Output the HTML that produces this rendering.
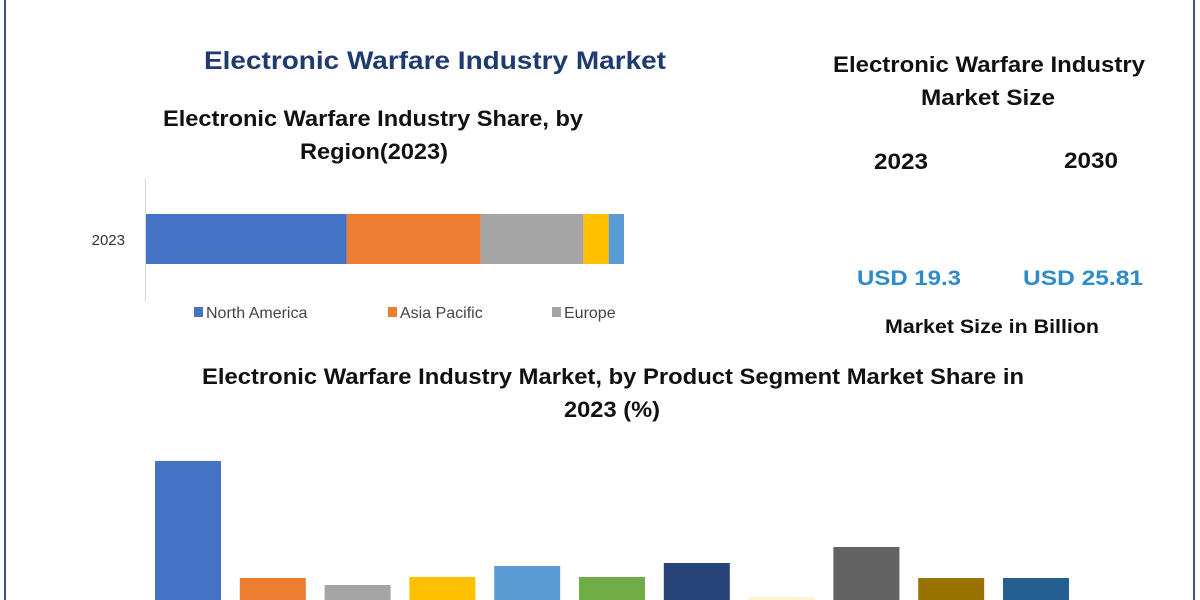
<!DOCTYPE html>
<html><head><meta charset="utf-8"><style>
html,body{margin:0;padding:0;background:#fff;}
svg{display:block;font-family:"Liberation Sans",sans-serif;}
</style></head><body>
<svg id="chart" width="1200" height="600" viewBox="0 0 1200 600">
<rect x="0" y="0" width="1200" height="600" fill="#fff"/>
<line x1="5" y1="0" x2="5" y2="600" stroke="#3d4f86" stroke-width="2"/>
<line x1="1194" y1="0" x2="1194" y2="600" stroke="#3d4f86" stroke-width="2"/>
<text x="435" y="69" text-anchor="middle" font-size="25" font-weight="bold" fill="#1f3a6e" textLength="462" lengthAdjust="spacingAndGlyphs">Electronic Warfare Industry Market</text>
<text x="373" y="126" text-anchor="middle" font-size="22" font-weight="bold" fill="#111" textLength="420" lengthAdjust="spacingAndGlyphs">Electronic Warfare Industry Share, by</text>
<text x="374" y="159" text-anchor="middle" font-size="22" font-weight="bold" fill="#111" textLength="148" lengthAdjust="spacingAndGlyphs">Region(2023)</text>
<line x1="145.5" y1="178" x2="145.5" y2="302" stroke="#d9d9d9" stroke-width="1"/>
<text x="125" y="245" text-anchor="end" font-size="15" fill="#333">2023</text>
<g id="stack"></g>
<g id="legend"></g>
<text x="989" y="72" text-anchor="middle" font-size="22" font-weight="bold" fill="#111" textLength="312" lengthAdjust="spacingAndGlyphs">Electronic Warfare Industry</text>
<text x="988" y="105" text-anchor="middle" font-size="22" font-weight="bold" fill="#111" textLength="134" lengthAdjust="spacingAndGlyphs">Market Size</text>
<text x="901" y="169" text-anchor="middle" font-size="22" font-weight="bold" fill="#111" textLength="54" lengthAdjust="spacingAndGlyphs">2023</text>
<text x="1091" y="168" text-anchor="middle" font-size="22" font-weight="bold" fill="#111" textLength="54" lengthAdjust="spacingAndGlyphs">2030</text>
<text x="909" y="285" text-anchor="middle" font-size="21" font-weight="bold" fill="#2e8bc9" textLength="104" lengthAdjust="spacingAndGlyphs">USD 19.3</text>
<text x="1083" y="285" text-anchor="middle" font-size="21" font-weight="bold" fill="#2e8bc9" textLength="120" lengthAdjust="spacingAndGlyphs">USD 25.81</text>
<text x="992" y="333" text-anchor="middle" font-size="19" font-weight="bold" fill="#111" textLength="214" lengthAdjust="spacingAndGlyphs">Market Size in Billion</text>
<text x="613" y="384" text-anchor="middle" font-size="22" font-weight="bold" fill="#111" textLength="822" lengthAdjust="spacingAndGlyphs">Electronic Warfare Industry Market, by Product Segment Market Share in</text>
<text x="612" y="417" text-anchor="middle" font-size="22" font-weight="bold" fill="#111" textLength="96" lengthAdjust="spacingAndGlyphs">2023 (%)</text>
<g id="bars"></g>
</svg>
<script>
const regions = ["North America","Asia Pacific","Europe","Middle East & Africa","South America"];
const regionShares = [42, 28, 21.5, 5.3, 3.2];
const regionColors = ["#4472c4","#ed7d31","#a5a5a5","#ffc000","#5b9bd5"];
const legendShown = ["North America","Asia Pacific","Europe"];
const segments = ["S1","S2","S3","S4","S5","S6","S7","S8","S9","S10","S11"];
const segmentValues = [139, 22, 15, 23, 34, 23, 37, 3, 53, 22, 22];
const segmentColors = ["#4472c4","#ed7d31","#a5a5a5","#ffc000","#5b9bd5","#70ad47","#264478","#fff2cc","#636363","#997300","#255e91"];
const NS = "http://www.w3.org/2000/svg";
function mk(t, a, p){const e=document.createElementNS(NS,t);for(const k in a)e.setAttribute(k,a[k]);p.appendChild(e);return e;}
// stacked bar axis
const sx0=146, sxW=478; const total=regionShares.reduce((a,b)=>a+b,0);
const xs = v => v/total*sxW;
let acc=0; const stack=document.getElementById('stack');
regionShares.forEach((v,i)=>{
  const r=mk('rect',{x:sx0+xs(acc),y:214,width:xs(v),height:50,fill:regionColors[i]},stack);
  
  
  acc+=v;
});
const lg=document.getElementById('legend'); const lx=[194,388,552];
legendShown.forEach((n,i)=>{
  const g=mk('g',{},lg);
  
  
  mk('rect',{x:lx[i],y:307,width:9,height:10,fill:regionColors[i]},g);
  const t=mk('text',{x:lx[i]+12,y:318,'font-size':16,fill:'#444'},g); t.textContent=n;
});
// vertical bars
const bx0=155, step=84.8, bw=66, base=600;
const ys = v => v*1.0;
const bars=document.getElementById('bars');
segmentValues.forEach((v,i)=>{
  const r=mk('rect',{x:bx0+i*step,y:base-ys(v),width:bw,height:ys(v)+2,fill:segmentColors[i]},bars);
  
  
});
</script>
</body></html>
